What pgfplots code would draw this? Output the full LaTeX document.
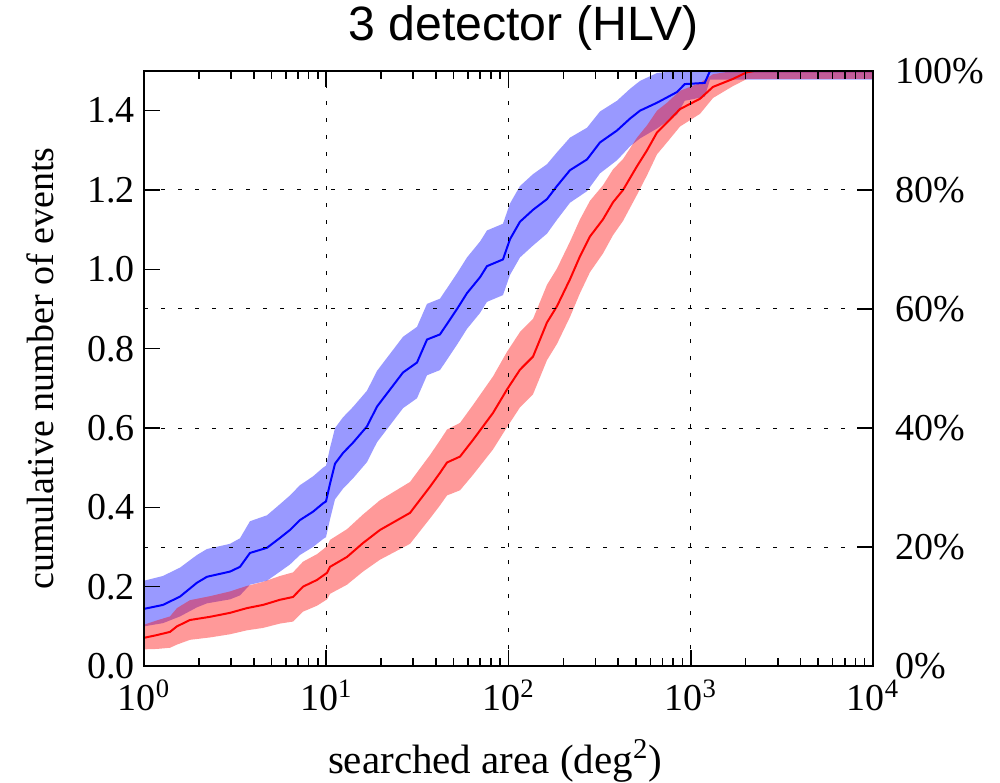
\documentclass[border=0pt]{standalone}
\usepackage{fontspec}
\setmainfont{Liberation Serif}
\newfontfamily\titlefont{Liberation Sans}
\usepackage{pgfplots}
\pgfplotsset{compat=1.18}
\usepackage{pgfplotstable}

\pgfplotstableread{
x y
1.0 0.144
1.27 0.154
1.576 0.175
1.954 0.210
2.217 0.225
2.964 0.238
3.363 0.250
3.816 0.285
4.73 0.298
5.575 0.323
6.326 0.343
7.178 0.368
8.459 0.389
9.598 0.410
9.97 0.415
10.49 0.460
11.17 0.510
12.36 0.537
14.02 0.563
16.73 0.604
18.99 0.654
22.38 0.697
26.38 0.740
31.47 0.765
35.72 0.823
42.09 0.836
52.18 0.900
59.21 0.940
69.77 0.980
76.21 1.008
93.27 1.025
101.9 1.076
115.6 1.120
136.3 1.150
162.6 1.177
184.5 1.210
217.5 1.250
269.6 1.277
317.8 1.320
393.9 1.350
464.2 1.380
526.6 1.400
652.9 1.420
840.7 1.447
927.0 1.467
1193 1.470
1275 1.500
10000 1.500
}\bluedata

\pgfplotstableread{
x b
1.0 0.100
1.27 0.108
1.576 0.125
1.954 0.148
2.217 0.158
2.964 0.168
3.363 0.178
3.816 0.205
4.73 0.215
5.575 0.238
6.326 0.256
7.178 0.280
8.459 0.300
9.598 0.320
9.97 0.325
10.49 0.370
11.17 0.420
12.36 0.447
14.02 0.473
16.73 0.514
18.99 0.564
22.38 0.607
26.38 0.650
31.47 0.675
35.72 0.733
42.09 0.746
52.18 0.810
59.21 0.850
69.77 0.890
76.21 0.918
93.27 0.935
101.9 0.986
115.6 1.030
136.3 1.060
162.6 1.090
184.5 1.125
217.5 1.168
269.6 1.197
317.8 1.242
393.9 1.275
464.2 1.310
526.6 1.330
652.9 1.355
840.7 1.390
927.0 1.425
1193 1.435
1275 1.478
10000 1.478
10000 1.500
1275 1.500
1193 1.500
927.0 1.500
840.7 1.500
652.9 1.495
526.6 1.475
464.2 1.455
393.9 1.425
317.8 1.398
269.6 1.357
217.5 1.332
184.5 1.295
162.6 1.265
136.3 1.240
115.6 1.210
101.9 1.166
93.27 1.115
76.21 1.098
69.77 1.070
59.21 1.030
52.18 0.990
42.09 0.926
35.72 0.913
31.47 0.855
26.38 0.830
22.38 0.787
18.99 0.744
16.73 0.694
14.02 0.653
12.36 0.627
11.17 0.600
10.49 0.550
9.97 0.505
9.598 0.500
8.459 0.478
7.178 0.456
6.326 0.430
5.575 0.408
4.73 0.380
3.816 0.365
3.363 0.322
2.964 0.308
2.217 0.295
1.954 0.280
1.576 0.248
1.27 0.227
1.0 0.215
}\blueband

\pgfplotstableread{
x y
1.0 0.071
1.178 0.078
1.389 0.086
1.517 0.100
1.788 0.116
2.302 0.124
2.964 0.134
3.674 0.146
4.497 0.154
5.575 0.167
6.57 0.174
7.455 0.200
8.898 0.217
10.1 0.235
10.49 0.250
13.0 0.275
15.91 0.310
19.72 0.343
28.81 0.386
37.1 0.452
42.09 0.487
45.98 0.513
54.2 0.528
63.87 0.570
72.47 0.604
82.22 0.638
98.1 0.697
115.6 0.747
136.3 0.780
148.9 0.823
162.6 0.866
184.5 0.907
217.5 0.975
246.8 1.033
280.1 1.083
330.0 1.126
374.5 1.169
425.0 1.200
507.2 1.260
575.4 1.300
652.9 1.345
740.8 1.370
873.0 1.404
1124 1.430
1325 1.460
1705 1.480
2035 1.497
2252 1.500
10000 1.500
}\reddata

\pgfplotstableread{
x b
1.0 0.042
1.178 0.043
1.389 0.046
1.517 0.054
1.788 0.066
2.302 0.072
2.964 0.080
3.674 0.090
4.497 0.096
5.575 0.107
6.57 0.112
7.455 0.137
8.898 0.152
10.1 0.168
10.49 0.182
13.0 0.205
15.91 0.238
19.72 0.268
28.81 0.308
37.1 0.372
42.09 0.405
45.98 0.430
54.2 0.443
63.87 0.482
72.47 0.514
82.22 0.546
98.1 0.602
115.6 0.652
136.3 0.685
148.9 0.728
162.6 0.771
184.5 0.812
217.5 0.880
246.8 0.940
280.1 0.993
330.0 1.040
374.5 1.086
425.0 1.122
507.2 1.188
575.4 1.237
652.9 1.290
740.8 1.320
873.0 1.360
1124 1.392
1325 1.432
1705 1.462
2035 1.480
2252 1.480
10000 1.480
10000 1.500
2252 1.500
2035 1.500
1705 1.500
1325 1.492
1124 1.470
873.0 1.450
740.8 1.420
652.9 1.400
575.4 1.363
507.2 1.332
425.0 1.278
374.5 1.252
330.0 1.212
280.1 1.173
246.8 1.126
217.5 1.070
184.5 1.002
162.6 0.961
148.9 0.918
136.3 0.875
115.6 0.842
98.1 0.792
82.22 0.730
72.47 0.694
63.87 0.658
54.2 0.613
45.98 0.596
42.09 0.569
37.1 0.532
28.81 0.464
19.72 0.418
15.91 0.382
13.0 0.345
10.49 0.318
10.1 0.302
8.898 0.282
7.455 0.263
6.57 0.236
5.575 0.227
4.497 0.212
3.674 0.202
2.964 0.188
2.302 0.176
1.788 0.166
1.517 0.146
1.389 0.125
1.178 0.115
1.0 0.104
}\redband

\begin{document}
\begin{tikzpicture}
\path[use as bounding box] (-72pt,-58pt) rectangle (428pt,333pt);
\begin{axis}[
  at={(0,0)}, anchor=south west,
  scale only axis, width=364.5pt, height=297.5pt,
  xmode=log, xmin=1, xmax=10000, ymin=0, ymax=1.5,
  xtick={1,10,100,1000,10000},
  minor xtick={2,3,4,5,6,7,8,9,20,30,40,50,60,70,80,90,200,300,400,500,600,700,800,900,2000,3000,4000,5000,6000,7000,8000,9000},
  xticklabels={10\textsuperscript{0},10\textsuperscript{1},10\textsuperscript{2},10\textsuperscript{3},10\textsuperscript{4}},
  ytick={0,0.2,0.4,0.6,0.8,1.0,1.2,1.4},
  yticklabels={0.0,0.2,0.4,0.6,0.8,1.0,1.2,1.4},
  ytick pos=left, xtick pos=both, tick align=inside,
  major tick length=8pt, minor tick length=4pt,
  xmajorgrids,
  grid style={black, line width=0.5pt, dash pattern=on 2pt off 6.5pt},
  axis line style={line width=0.8pt},
  every tick/.style={black, line width=0.8pt},
  axis on top,
  tick label style={font=\fontsize{19}{22}\selectfont},
  yticklabel style={xshift=-1pt},
  xticklabel style={yshift=-3.5pt},
  label style={font=\fontsize{19}{22}\selectfont},
  xlabel={searched area (deg\textsuperscript{2})},
  ylabel={cumulative number of events},
  xlabel style={font=\fontsize{20.5}{23}\selectfont, at={(axis description cs:0.4815,-0.159)}, anchor=center},
  ylabel style={at={(axis description cs:-0.1427,0.5)}, anchor=center},
  title={\titlefont 3 detector (HLV)},
  title style={font=\fontsize{24.1}{27}\selectfont, at={(axis description cs:0.5206,1.031)}, anchor=base},
]
\addplot[fill=blue, fill opacity=0.4, draw=none] table[x=x, y=b] {\blueband};
\addplot[fill=red, fill opacity=0.4, draw=none] table[x=x, y=b] {\redband};
\addplot[blue, line width=1pt, mark=none] table[x=x, y=y] {\bluedata};
\addplot[red, line width=1pt, mark=none] table[x=x, y=y] {\reddata};
\end{axis}
\begin{axis}[
  at={(0,0)}, anchor=south west,
  scale only axis, width=364.5pt, height=297.5pt,
  xmode=log, xmin=1, xmax=10000, ymin=0, ymax=100,
  axis x line=none, axis y line*=right,
  ytick={0,20,40,60,80,100},
  yticklabels={0\%,20\%,40\%,60\%,80\%,100\%},
  tick align=inside, major tick length=8pt,
  ymajorgrids,
  grid style={black, line width=0.5pt, dash pattern=on 2pt off 6.5pt},
  axis line style={line width=0.8pt},
  every tick/.style={black, line width=0.8pt},
  tick label style={font=\fontsize{19}{22}\selectfont},
  yticklabel style={anchor=west, xshift=7.5pt},
]
\addplot[draw=none] coordinates {(1,0) (10000,100)};
\end{axis}
\end{tikzpicture}
\end{document}
